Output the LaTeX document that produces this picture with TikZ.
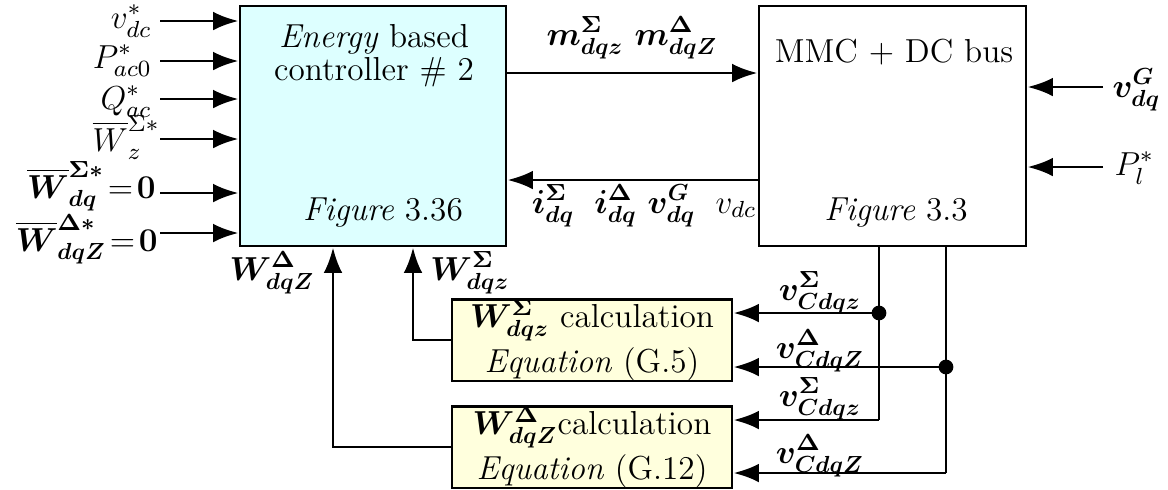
\RequirePackage{fix-cm}
\documentclass[tikz,border=0pt]{standalone}
\usepackage{amsmath,bm}
\usetikzlibrary{arrows.meta}
\definecolor{ccyan}{RGB}{221,255,255}
\definecolor{cyel}{RGB}{255,255,221}
\begin{document}
\fontsize{12.4}{15}\selectfont
\begin{tikzpicture}[x=0.373pt,y=-0.373pt,
  arr/.style={line width=1.1pt,-{Latex[length=9.5pt,width=7pt]}},
  ln/.style={line width=1.1pt},
  blk/.style={draw,line width=1.1pt,inner sep=0pt,align=center},
  txt/.style={inner sep=0pt,anchor=base},
  lbl/.style={inner sep=0pt,anchor=base east},
  rl/.style={inner sep=0pt,anchor=base west},
  dot/.style={circle,fill,inner sep=0pt,minimum size=5.5pt}]
\useasboundingbox (0,0) rectangle (1168,489);
% blocks
\node[blk,fill=ccyan,minimum width=266*0.373pt,minimum height=240*0.373pt] (ctrl) at (373,126) {};
\node[blk,minimum width=267*0.373pt,minimum height=240*0.373pt] (mmc) at (892.5,126) {};
\node[blk,fill=cyel,minimum width=280*0.373pt,minimum height=80*0.373pt] (c1) at (592,340)
  {$\bm{W^{\Sigma}_{dqz}}$ calculation\\[2pt] \textit{Equation} (G.5)};
\node[blk,fill=cyel,minimum width=280*0.373pt,minimum height=80*0.373pt] (c2) at (592,447)
  {$\bm{W^{\Delta}_{dqZ}}$calculation\\[2pt] \textit{Equation} (G.12)};
% block texts
\node[txt] (t1a) at (374,47) {\textit{Energy} based};
\node[txt] (t1b) at (374,80) {controller $\#$ 2};
\node[txt] (t2) at (383,220) {\textit{Figure} 3.36};
\node[txt] (t3) at (894,62) {MMC $+$ DC bus};
\node[txt] (t4) at (896,220) {\textit{Figure} 3.3};
% left inputs
\node[lbl] (l1) at (152,28) {$v^*_{dc}$};
\node[lbl] (l2) at (152,68) {$P^*_{ac0}$};
\node[lbl] (l3) at (152,109) {$Q^*_{ac}$};
\node[lbl] (l4) at (160,151) {$\overline{W}^{\Sigma *}_{z}$};
\node[lbl] (l5) at (156,198) {$\overline{\bm{W}}^{\bm{\Sigma *}}_{\bm{dq}}\!=\!\mathbf{0}$};
\node[lbl] (l6) at (158,251) {$\overline{\bm{W}}^{\bm{\Delta *}}_{\bm{dqZ}}\!=\!\mathbf{0}$};
\coordinate (y1) at (160,21);
\coordinate (y2) at (160,61);
\coordinate (y3) at (160,99);
\coordinate (y4) at (160,139);
\coordinate (y5) at (160,193);
\coordinate (y6) at (160,233);
\foreach \i in {1,...,6} \draw[arr] (y\i) -- (ctrl.west |- y\i);
% forward / feedback
\coordinate (ym) at (0,73);
\coordinate (yf) at (0,180);
\draw[arr] (ctrl.east |- ym) -- (mmc.west |- ym);
\node[txt] (lm) at (632,45) {$\bm{m^{\Sigma}_{dqz}}\ \bm{m^{\Delta}_{dqZ}}$};
\draw[arr] (mmc.west |- yf) -- (ctrl.east |- yf);
\node[txt] (lf) at (644,213) {$\bm{i^{\Sigma}_{dq}}\ \;\bm{i^{\Delta}_{dq}}\ \bm{v^{G}_{dq}}\ \;v_{dc}$};
% right inputs
\node[rl] (r1) at (1112,97) {$\bm{v^{G}_{dq}}$};
\node[rl] (r2) at (1114,175) {$P^*_{l}$};
\coordinate (ry1) at (1103,87);
\coordinate (ry2) at (1103,167);
\draw[arr] (ry1) -- (mmc.east |- ry1);
\draw[arr] (ry2) -- (mmc.east |- ry2);
% bottom feedback to controller
\coordinate (bx1) at (413,0);
\coordinate (bx2) at (333,0);
\draw[arr] (c1.west) -| (ctrl.south -| bx1);
\draw[arr] (c2.west) -| (ctrl.south -| bx2);
\node[txt] (wd) at (272,280) {$\bm{W^{\Delta}_{dqZ}}$};
\node[txt] (ws) at (470,280) {$\bm{W^{\Sigma}_{dqz}}$};
% capacitor voltages
\coordinate (vx1) at (879,0);
\coordinate (vx2) at (946,0);
\node[dot] (d1) at (879,313) {};
\node[dot] (d2) at (946,367) {};
\coordinate (e1) at (879,420);
\coordinate (e2) at (946,473);
\draw[ln] (mmc.south -| vx1) -- (d1.center) -- (e1);
\draw[ln] (mmc.south -| vx2) -- (d2.center) -- (e2);
\draw[arr] (d1.center) -- (c1.east |- d1);
\draw[arr] (d2.center) -- (c1.east |- d2);
\draw[arr] (e1) -- (c2.east |- e1);
\draw[arr] (e2) -- (c2.east |- e2);
\node[txt] (v1) at (820,300) {$\bm{v^{\Sigma}_{Cdqz}}$};
\node[txt] (v2) at (820,358) {$\bm{v^{\Delta}_{CdqZ}}$};
\node[txt] (v3) at (820,406) {$\bm{v^{\Sigma}_{Cdqz}}$};
\node[txt] (v4) at (820,463) {$\bm{v^{\Delta}_{CdqZ}}$};
\end{tikzpicture}
\end{document}
